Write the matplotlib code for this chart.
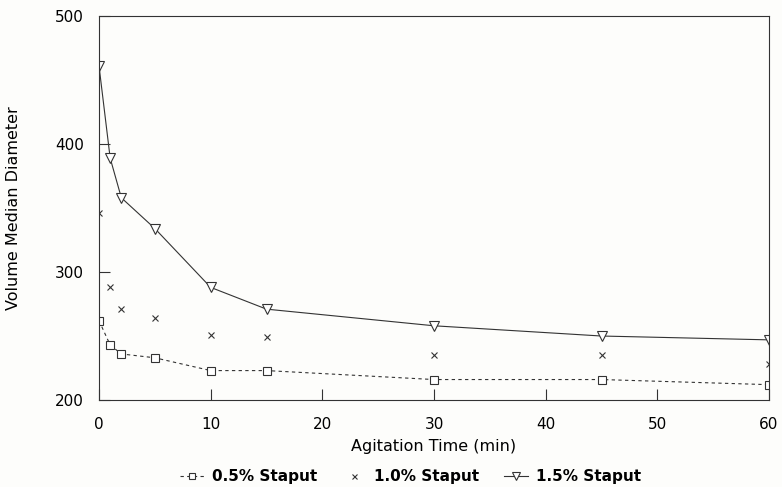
import numpy as np
import matplotlib.pyplot as plt

plt.rcParams['font.family'] = ['DejaVu Sans']

# tempo de agitação (min) e diâmetro mediano em volume para cada concentração
tempo = [0, 1, 2, 5, 10, 15, 30, 45, 60]
staput_05 = [262, 243, 236, 233, 223, 223, 216, 216, 212]
staput_10 = [346, 288, 271, 264, 251, 249, 235, 235, 228]
staput_15 = [461, 389, 358, 334, 288, 271, 258, 250, 247]

rotulos = ['0.5% Staput', '1.0% Staput', '1.5% Staput']
xticks = [0, 10, 20, 30, 40, 50, 60]
yticks = [200, 300, 400, 500]

fig = plt.figure(figsize=(7.82, 4.87), dpi=100, facecolor='#fdfdfb')
ax = fig.add_axes([0.1266, 0.1786, 0.8568, 0.7885])
ax.set_facecolor('#fdfdfb')

cor = '#333333'
ax.plot(tempo, staput_05, linestyle=(0, (3, 3)), color=cor, linewidth=0.8,
        marker='s', markersize=5.5, markerfacecolor='white', markeredgecolor=cor,
        markeredgewidth=0.8, label=rotulos[0])
ax.plot(tempo, staput_10, linestyle='none', color=cor,
        marker='x', markersize=4.5, markeredgewidth=0.8, label=rotulos[1])
ax.plot(tempo, staput_15, linestyle='-', color=cor, linewidth=0.8,
        marker='v', markersize=6.5, markerfacecolor='white', markeredgecolor=cor,
        markeredgewidth=0.8, label=rotulos[2])

ax.set_xlim(0, 60)
ax.set_ylim(200, 500)
ax.set_xticks(xticks)
ax.set_yticks(yticks)
ax.tick_params(direction='in', length=8, width=0.8, color=cor, labelsize=11)
ax.tick_params(axis='x', pad=12)
ax.tick_params(axis='y', pad=11)
for lado in ax.spines.values():
    lado.set_linewidth(0.8)
    lado.set_color(cor)

ax.set_xlabel('Agitation Time (min)', fontsize=11.5, labelpad=5)
ax.set_ylabel('Volume Median Diameter', fontsize=11.5, labelpad=24)

fig.legend(loc='lower center', bbox_to_anchor=(0.525, -0.022), ncol=3,
           frameon=False, handlelength=1.6, columnspacing=1.6,
           handletextpad=0.5, markerscale=0.8,
           prop={'weight': 'bold', 'size': 11})

fig.savefig('out.png', dpi=100, facecolor=fig.get_facecolor())
